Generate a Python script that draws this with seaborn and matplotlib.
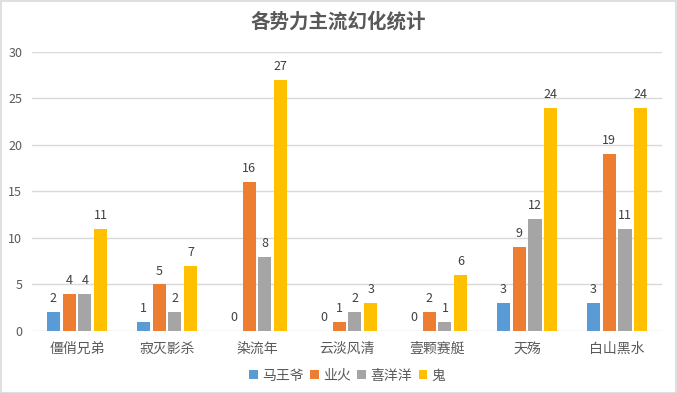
import pandas as pd
import matplotlib.pyplot as plt
import seaborn as sns
from matplotlib.patches import Rectangle

# chart data
categories = ['僵俏兄弟', '寂灭影杀', '染流年', '云淡风清', '壹颗赛艇', '天殇', '白山黑水']
series = ['马王爷', '业火', '喜洋洋', '鬼']
mawangye = [2, 1, 0, 0, 0, 3, 3]
yehuo = [4, 5, 16, 1, 2, 9, 19]
xiyangyang = [4, 2, 8, 2, 1, 12, 11]
gui = [11, 7, 27, 3, 6, 24, 24]
colors = ['#5B9BD5', '#ED7D31', '#A5A5A5', '#FFC000']

rows = []
for name, vals in zip(series, [mawangye, yehuo, xiyangyang, gui]):
    for cat, v in zip(categories, vals):
        rows.append({'团队': cat, '角色': name, '数量': v})
df = pd.DataFrame(rows)

sns.set_style('white')
plt.rcParams['font.family'] = ['Noto Sans CJK SC', 'DejaVu Sans']
text_color = '#595959'

fig = plt.figure(figsize=(6.77, 3.93), dpi=100)
ax = fig.add_axes([0.0473, 0.1578, 0.9307, 0.7099])

sns.barplot(data=df, x='团队', y='数量', hue='角色', hue_order=series,
            order=categories, palette=colors, width=0.7, gap=0.17,
            saturation=1, linewidth=0, ax=ax, legend=True, errorbar=None)

for cont in ax.containers:
    ax.bar_label(cont, padding=5, fontsize=9, color='#404040')

ax.set_ylim(0, 30)
ax.set_yticks(range(0, 31, 5))
ax.set_xlim(-0.5, 6.5)
ax.yaxis.grid(True, color='#D9D9D9', linewidth=1)
ax.set_axisbelow(True)
for s in ax.spines.values():
    s.set_visible(False)
ax.tick_params(axis='both', length=0, colors=text_color, labelsize=9)
ax.tick_params(axis='x', labelsize=10, pad=8)
ax.tick_params(axis='y', pad=7)
ax.set_xlabel('')
ax.set_ylabel('')

ax.legend(loc='upper center', bbox_to_anchor=(0.5, -0.09), ncol=4, frameon=False,
          fontsize=10, handlelength=0.6, handleheight=0.6, handletextpad=0.3,
          columnspacing=0.5, labelcolor=text_color)

fig.text(0.5, 0.945, '各势力主流幻化统计', ha='center', va='center',
         fontsize=14, color=text_color, fontweight='bold')

fig.patches.append(Rectangle((0.001, 0.001), 0.997, 0.997, transform=fig.transFigure,
                             fill=False, edgecolor='#D9D9D9', linewidth=1.2))

fig.savefig('out.png', dpi=100)
